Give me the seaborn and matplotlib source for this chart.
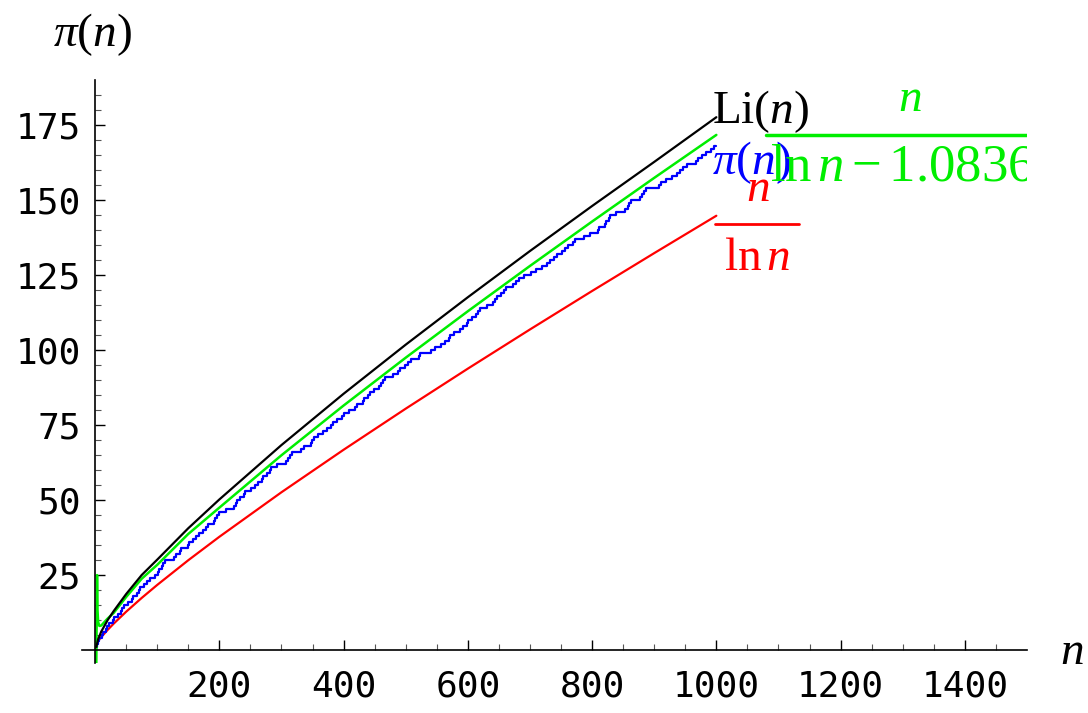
import matplotlib
matplotlib.use("Agg")
import matplotlib.pyplot as plt
import seaborn as sns

sns.set_theme(style="white")
plt.rcParams['font.family'] = ['DejaVu Sans']
serif = 'Liberation Serif'
plt.rcParams['mathtext.fontset'] = 'custom'
plt.rcParams['mathtext.rm'] = serif
plt.rcParams['mathtext.it'] = serif + ':italic'

primes = [2,3,5,7,11,13,17,19,23,29,31,37,41,43,47,53,59,61,67,71,73,79,83,89,97,
101,103,107,109,113,127,131,137,139,149,151,157,163,167,173,179,181,191,193,197,199,
211,223,227,229,233,239,241,251,257,263,269,271,277,281,283,293,307,311,313,317,331,
337,347,349,353,359,367,373,379,383,389,397,401,409,419,421,431,433,439,443,449,457,
461,463,467,479,487,491,499,503,509,521,523,541,547,557,563,569,571,577,587,593,599,
601,607,613,617,619,631,641,643,647,653,659,661,673,677,683,691,701,709,719,727,733,
739,743,751,757,761,769,773,787,797,809,811,821,823,827,829,839,853,857,859,863,877,
881,883,887,907,911,919,929,937,941,947,953,967,971,977,983,991,997]

n_li = [2, 5, 10, 20, 30, 50, 75, 100, 150, 200, 300, 400, 500, 600, 700, 800, 900, 1000]
li_vals = [1.045, 3.63, 6.17, 9.91, 13.0, 18.66, 25.0, 30.13, 40.6, 50.19, 68.33, 85.42,
           101.79, 117.6, 133.0, 148.0, 162.7, 177.6]
n_ln = [2, 5, 10, 20, 30, 50, 75, 100, 150, 200, 300, 400, 500, 600, 700, 800, 900, 1000]
ln_vals = [2.885, 3.11, 4.343, 6.676, 8.82, 12.78, 17.37, 21.71, 29.94, 37.75, 52.6, 66.76,
           80.46, 93.8, 106.86, 119.68, 132.3, 144.76]
n_leg = [2, 3.2, 4, 5, 7, 10, 20, 30, 50, 75, 100, 150, 200, 300, 400, 500, 600, 700, 800, 900, 1000]
leg_vals = [-5.1, 25.0, 13.2, 9.35, 8.05, 8.20, 10.46, 12.39, 17.68, 23.77, 28.40, 38.7,
            47.46, 64.93, 81.50, 97.45, 112.93, 128.03, 142.83, 157.38, 171.70]
x_ticks = list(range(200, 1401, 200))
y_ticks = list(range(25, 176, 25))

fig = plt.figure(figsize=(10.88, 7.13), dpi=100)
ax = fig.add_axes([82/1088, 1-663/713, (1027-82)/1088, (663-80)/713])
ax.set_xlim(-21, 1500)
ax.set_ylim(-4.3, 190)

pi_x = [1] + primes + [1000]
pi_y = [0] + list(range(1, len(primes) + 1)) + [len(primes)]
sns.lineplot(x=n_ln, y=ln_vals, ax=ax, color='#ff0000', lw=1.6, sort=False, estimator=None)
ax.step(pi_x, pi_y, where='post', color='#0000ff', lw=1.6)
sns.lineplot(x=n_leg, y=leg_vals, ax=ax, color='#00ee00', lw=1.8, sort=False, estimator=None)
sns.lineplot(x=n_li, y=li_vals, ax=ax, color='black', lw=1.6, sort=False, estimator=None)

for s in ['top', 'right']:
    ax.spines[s].set_visible(False)
ax.spines['left'].set_position(('data', 0))
ax.spines['bottom'].set_position(('data', 0))
for s in ['left', 'bottom']:
    ax.spines[s].set_color('black'); ax.spines[s].set_linewidth(1.2)
ax.set_xticks(x_ticks)
ax.set_xticks(range(50, 1500, 50), minor=True)
ax.set_yticks(y_ticks)
ax.set_yticks(range(5, 190, 5), minor=True)
ax.tick_params(axis='both', which='major', direction='in', length=7, width=1, color='black',
               labelcolor='black')
ax.tick_params(axis='both', which='minor', direction='in', length=4, width=0.8, color='#555555')
ax.tick_params(axis='x', which='both', bottom=True, pad=14)
ax.tick_params(axis='y', which='both', left=True, pad=10)
ax.set_xticklabels([str(v) for v in x_ticks], family='DejaVu Sans Mono', fontsize=26)
ax.set_yticklabels([str(v) for v in y_ticks], family='DejaVu Sans Mono', fontsize=26)
ax.grid(False)

fs = 34
ax.text(993, 175.5, r'$\mathrm{Li}(n)$', color='black', fontsize=fs, va='baseline', ha='left')
ax.text(993, 162.5, r'$\pi(n)$', color='#0000ff', fontsize=fs, va='center', ha='left')
ax.text(1066, 154, r'$n$', color='#ff0000', fontsize=fs, va='center', ha='center')
ax.plot([998, 1133], [142, 142], color='#ff0000', lw=2, clip_on=False)
ax.text(1066, 131, r'$\mathrm{ln}\,n$', color='#ff0000', fontsize=fs, va='center', ha='center')
ax.text(1312, 184, r'$n$', color='#00ee00', fontsize=fs, va='center', ha='center', clip_on=True)
ax.plot([1080, 1500], [171.7, 171.7], color='#00ee00', lw=2.5, clip_on=True)
ax.text(1087, 161.5, r'$\mathrm{ln}\,n - 1.0836$', color='#00ee00', fontsize=38, va='center',
        ha='left', clip_on=True)

fig.text(53/1088, 1-35/713, r'$\pi(n)$', color='black', fontsize=fs, va='center', ha='left')
fig.text(1060/1088, 1-652/713, r'$n$', color='black', fontsize=fs, va='center', ha='left')

fig.savefig('out.png', dpi=100)
